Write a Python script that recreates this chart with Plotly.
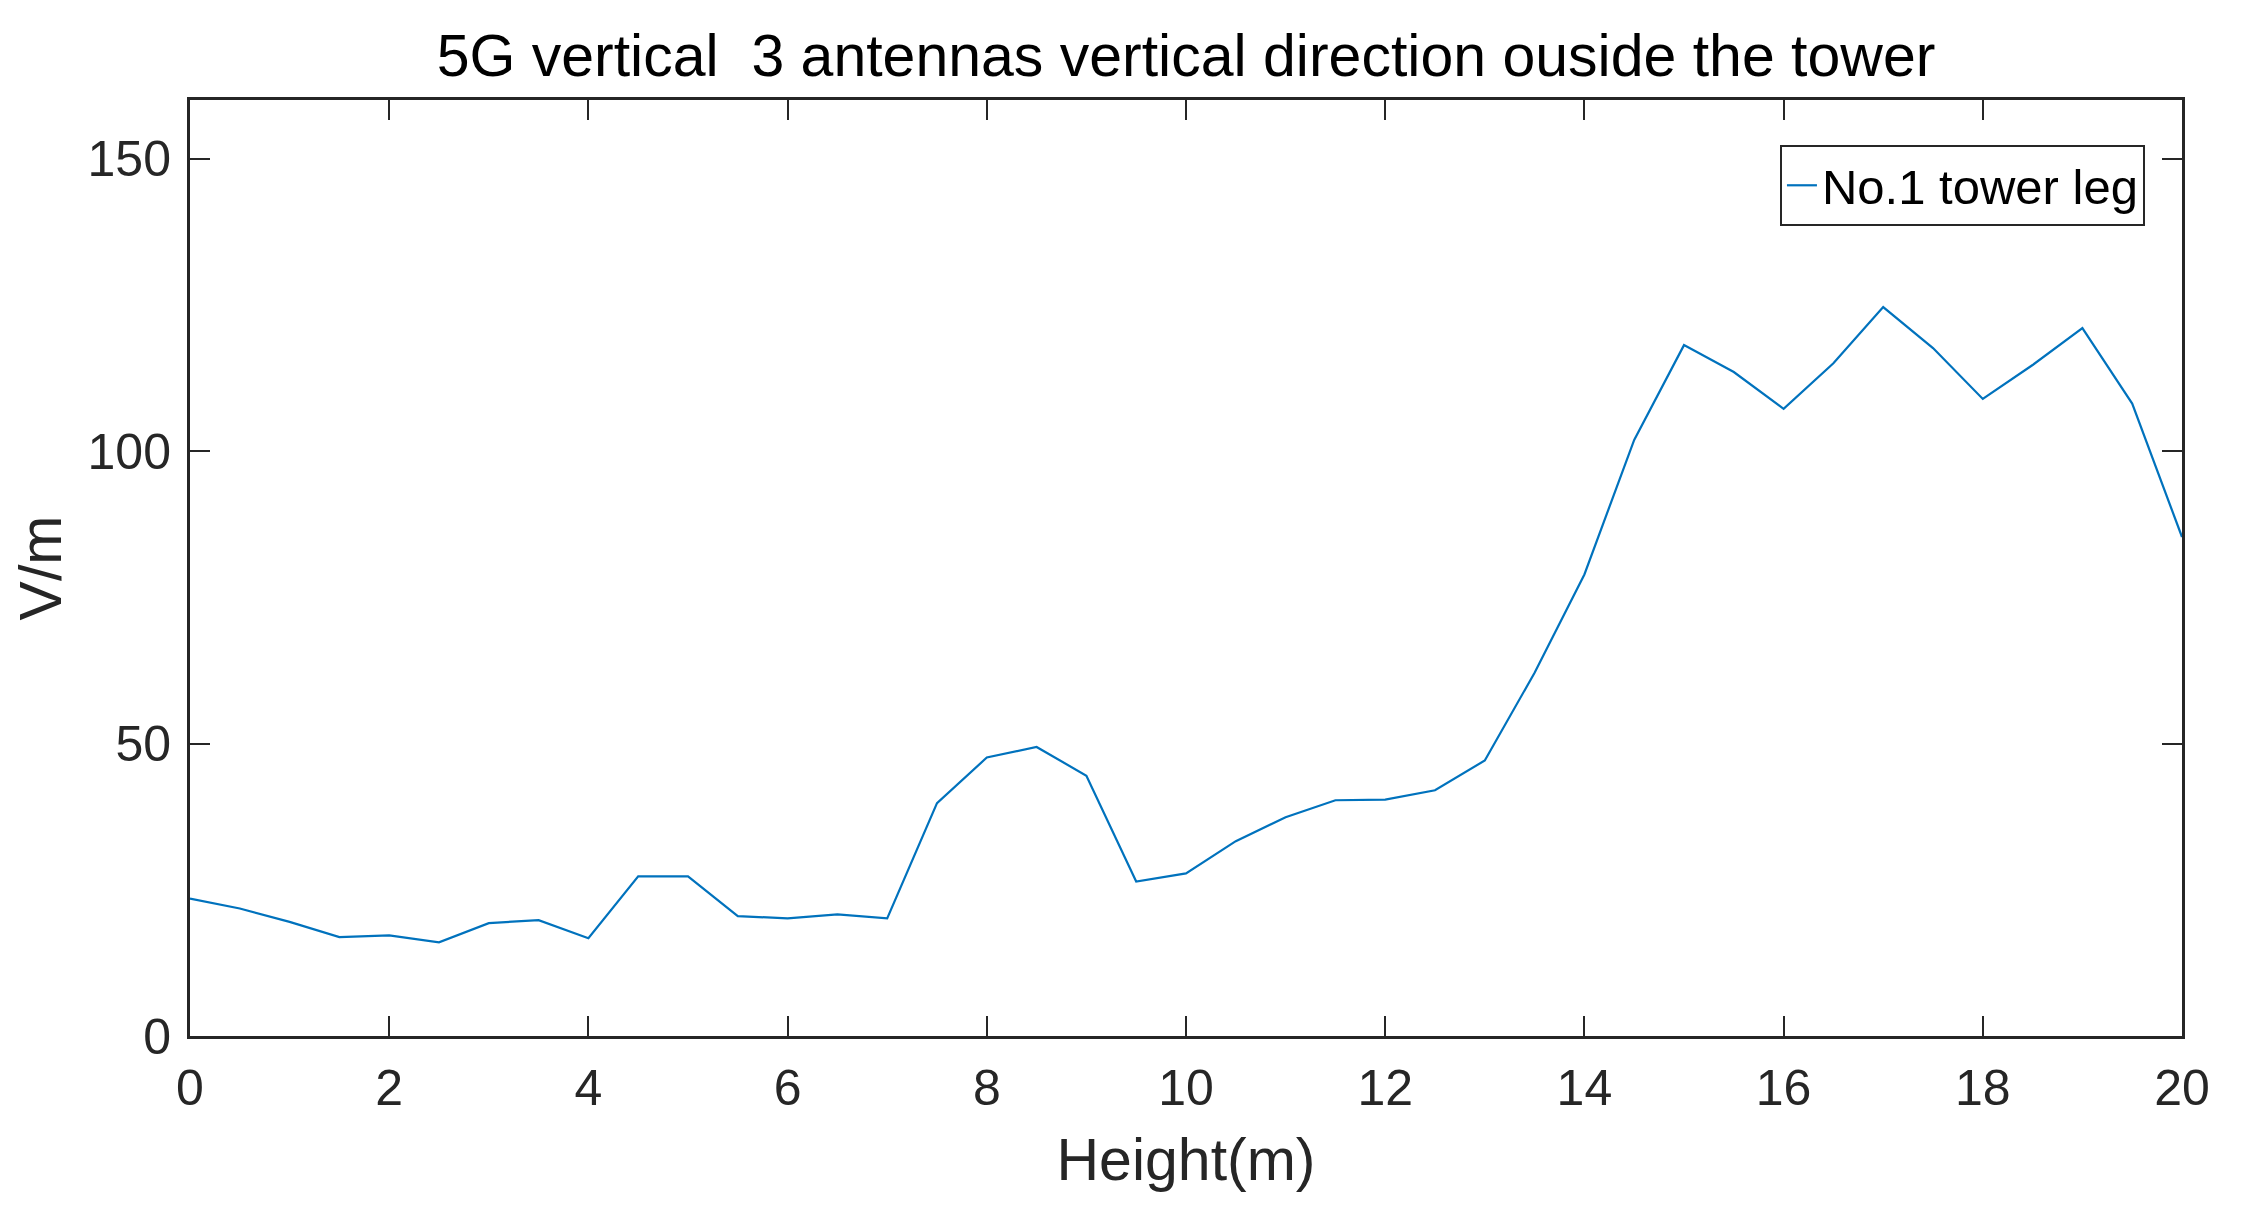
import plotly.graph_objects as go

height_m = [0, 0.5, 1, 1.5, 2, 2.5, 3, 3.5, 4, 4.5, 5, 5.5, 6, 6.5, 7, 7.5, 8, 8.5, 9, 9.5,
            10, 10.5, 11, 11.5, 12, 12.5, 13, 13.5, 14, 14.5, 15, 15.5, 16, 16.5, 17, 17.5,
            18, 18.5, 19, 19.5, 20]
field_vm = [23.5, 21.8, 19.5, 16.9, 17.2, 16.0, 19.3, 19.8, 16.7, 27.3, 27.3, 20.5, 20.1,
            20.8, 20.1, 39.8, 47.6, 49.4, 44.5, 26.4, 27.8, 33.3, 37.4, 40.3, 40.4, 42.0,
            47.1, 62.1, 78.9, 101.9, 118.1, 113.5, 107.2, 115.0, 124.6, 117.6, 108.9, 114.7,
            121.0, 108.1, 85.3]
series_name = "No.1 tower leg"
title_text = "5G vertical  3 antennas vertical direction ouside the tower"
x_ticks = [0, 2, 4, 6, 8, 10, 12, 14, 16, 18, 20]
y_ticks = [0, 50, 100, 150]

FONT = "Liberation Sans, Arial, sans-serif"
AX = "#262626"

fig = go.Figure()
fig.add_trace(go.Scatter(x=height_m, y=field_vm, mode="lines", name=series_name,
                         line=dict(color="#0072BD", width=2.2)))

axis_common = dict(showline=True, linecolor=AX, linewidth=3, mirror="ticks",
                   ticks="inside", ticklen=20, tickwidth=2, tickcolor=AX,
                   showgrid=False, zeroline=False,
                   tickfont=dict(family=FONT, size=50, color=AX))

# page body has an 8px margin, so margins are shifted by 8px
fig.update_layout(
    width=2244, height=1220,
    margin=dict(l=182, r=70, t=92, b=192),
    paper_bgcolor="white", plot_bgcolor="white",
    title=dict(text=title_text, x=0.5, xref="paper", xanchor="center",
               yref="container", y=1 - 68 / 1220, yanchor="bottom",
               font=dict(family=FONT, size=59, color="black")),
    xaxis=dict(range=[0, 20], tickvals=x_ticks, ticklabelstandoff=6,
               title=dict(text="Height(m)", standoff=24,
                          font=dict(family=FONT, size=59, color=AX)),
               **axis_common),
    yaxis=dict(range=[0, 160], tickvals=y_ticks, ticklabelstandoff=6,
               title=dict(text="V/m", standoff=26,
                          font=dict(family=FONT, size=59, color=AX)),
               **axis_common),
    legend=dict(x=0.9814, y=0.952, xanchor="right", yanchor="top",
                bgcolor="white", bordercolor=AX, borderwidth=2,
                font=dict(family=FONT, size=49, color="black")),
    showlegend=True,
)

fig.write_html("out.html")
